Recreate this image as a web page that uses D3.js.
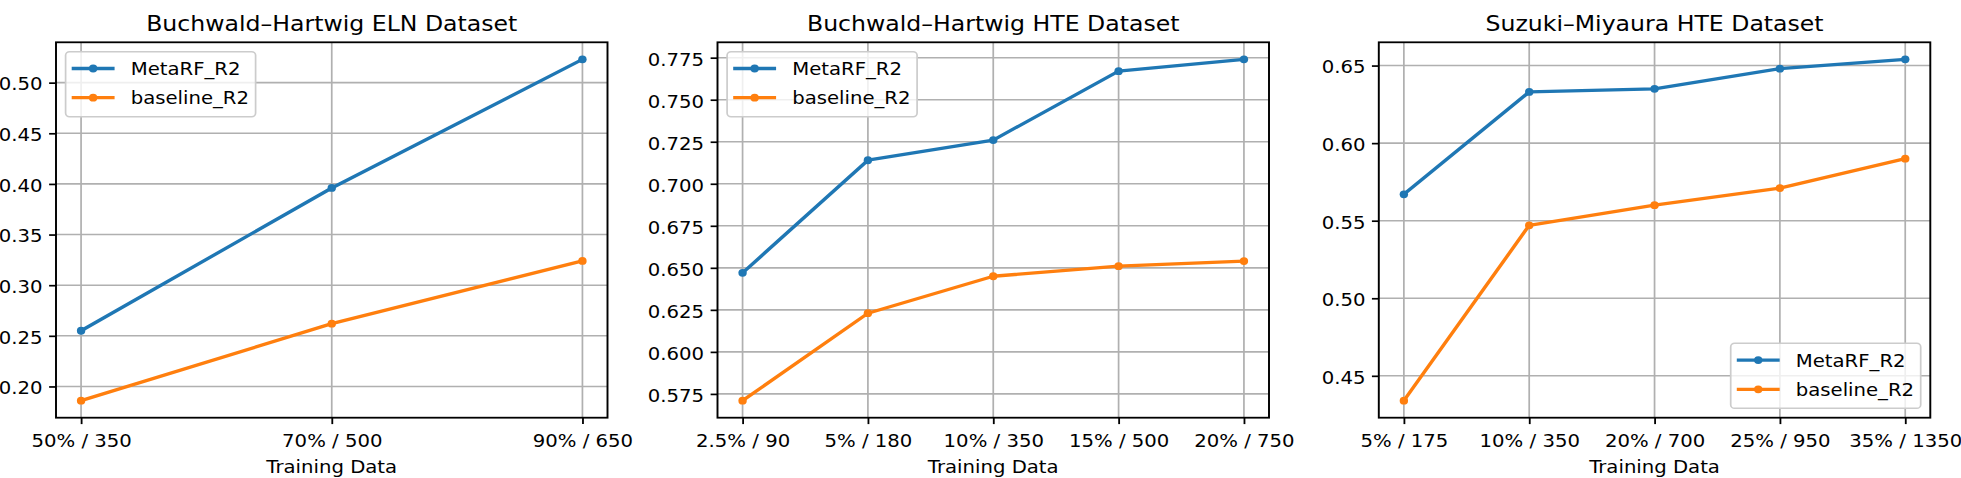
<!DOCTYPE html>
<html>
<head>
<meta charset="utf-8">
<script src="https://cdn.jsdelivr.net/npm/d3@7"></script>
<style>
  body { margin: 0; background: #fff; }
  text { font-family: "DejaVu Sans", sans-serif; }
</style>
</head>
<body>
<div id="chart"></div>
<script>
// series
const seriesNames = ["MetaRF_R2", "baseline_R2"];
const seriesColors = ["#1f77b4", "#ff7f0e"];

// Buchwald-Hartwig ELN
const elnLabels = ["50% / 350", "70% / 500", "90% / 650"];
const elnMeta = [0.255, 0.396, 0.523];
const elnBase = [0.186, 0.262, 0.324];
const elnTicks = [0.20, 0.25, 0.30, 0.35, 0.40, 0.45, 0.50];

// Buchwald-Hartwig HTE
const bhLabels = ["2.5% / 90", "5% / 180", "10% / 350", "15% / 500", "20% / 750"];
const bhMeta = [0.647, 0.714, 0.726, 0.767, 0.774];
const bhBase = [0.571, 0.623, 0.645, 0.651, 0.654];
const bhTicks = [0.575, 0.600, 0.625, 0.650, 0.675, 0.700, 0.725, 0.750, 0.775];

// Suzuki-Miyaura HTE
const smLabels = ["5% / 175", "10% / 350", "20% / 700", "25% / 950", "35% / 1350"];
const smMeta = [0.567, 0.633, 0.635, 0.648, 0.654];
const smBase = [0.434, 0.547, 0.560, 0.571, 0.590];
const smTicks = [0.45, 0.50, 0.55, 0.60, 0.65];

const panels = [
  { title: "Buchwald\u2013Hartwig ELN Dataset", labels: elnLabels, series: [elnMeta, elnBase], ticks: elnTicks, fmt: ".2f", legend: "top" },
  { title: "Buchwald\u2013Hartwig HTE Dataset", labels: bhLabels, series: [bhMeta, bhBase], ticks: bhTicks, fmt: ".3f", legend: "top" },
  { title: "Suzuki\u2013Miyaura HTE Dataset", labels: smLabels, series: [smMeta, smBase], ticks: smTicks, fmt: ".2f", legend: "bottom" }
];

const width = 1961, height = 478;
const sx = 1.075;         // the picture is a little stretched sideways
const fs = 18.3;          // 10pt
const px = fs / 10;       // pixels per point
const plotTop = 42.3, plotBottom = 417.7;
const lefts = [56, 717.5, 1378.8].map(v => v / sx);
const pw = 551.5 / sx;

const svg = d3.select("#chart")
  .append("svg")
  .attr("width", width)
  .attr("height", height);

const root = svg.append("g").attr("transform", `scale(${sx},1)`);

panels.forEach((p, i) => {
  const x0 = lefts[i];
  const n = p.labels.length;

  const x = d3.scalePoint()
    .domain(p.labels)
    .range([x0, x0 + pw])
    .padding(0.05 * (n - 1));

  const all = p.series.flat();
  const [lo, hi] = d3.extent(all);
  const pad = (hi - lo) * 0.05;
  const y = d3.scaleLinear()
    .domain([lo - pad, hi + pad])
    .range([plotBottom, plotTop]);

  const g = root.append("g");

  // grid
  g.append("g").selectAll("line")
    .data(p.ticks)
    .join("line")
    .attr("x1", x0).attr("x2", x0 + pw)
    .attr("y1", d => y(d)).attr("y2", d => y(d))
    .attr("stroke", "#b0b0b0")
    .attr("stroke-width", 1.6);

  g.append("g").selectAll("line")
    .data(p.labels)
    .join("line")
    .attr("x1", d => x(d)).attr("x2", d => x(d))
    .attr("y1", plotTop).attr("y2", plotBottom)
    .attr("stroke", "#b0b0b0")
    .attr("stroke-width", 1.6);

  // axes
  const yAxis = g.append("g")
    .attr("transform", `translate(${x0},0)`)
    .call(d3.axisLeft(y).tickValues(p.ticks).tickFormat(d3.format(p.fmt))
      .tickSize(3.5 * px).tickPadding(3.3 * px));

  const xAxis = g.append("g")
    .attr("transform", `translate(0,${plotBottom})`)
    .call(d3.axisBottom(x).tickSize(3.5 * px).tickPadding(3.5 * px));

  for (const ax of [xAxis, yAxis]) {
    ax.select(".domain").remove();
    ax.selectAll(".tick line").attr("stroke", "#000").attr("stroke-width", 1.7);
    ax.selectAll(".tick text")
      .attr("fill", "#000")
      .style("font-size", fs + "px")
      .style("font-family", '"DejaVu Sans", sans-serif');
  }
  yAxis.selectAll(".tick text").attr("dy", "0.4em");
  xAxis.selectAll(".tick text").attr("dy", "0.92em");

  // lines
  const line = d3.line()
    .x((d, j) => x(p.labels[j]))
    .y(d => y(d));

  p.series.forEach((vals, s) => {
    g.append("path")
      .datum(vals)
      .attr("fill", "none")
      .attr("stroke", seriesColors[s])
      .attr("stroke-width", 3.3)
      .attr("stroke-linejoin", "round")
      .attr("d", line);

    g.append("g").selectAll("circle")
      .data(vals)
      .join("circle")
      .attr("cx", (d, j) => x(p.labels[j]))
      .attr("cy", d => y(d))
      .attr("r", 3.9)
      .attr("fill", seriesColors[s]);
  });

  // spines
  g.append("rect")
    .attr("x", x0).attr("y", plotTop)
    .attr("width", pw).attr("height", plotBottom - plotTop)
    .attr("fill", "none")
    .attr("stroke", "#000")
    .attr("stroke-width", 1.8);

  // title and x label
  g.append("text")
    .attr("x", x0 + pw / 2)
    .attr("y", 30.7)
    .attr("text-anchor", "middle")
    .style("font-size", (fs * 1.2) + "px")
    .text(p.title);

  g.append("text")
    .attr("x", x0 + pw / 2)
    .attr("y", 472.6)
    .attr("text-anchor", "middle")
    .style("font-size", fs + "px")
    .text("Training Data");

  // legend
  const lw = 190 / sx, lh = 65;
  const bap = 9.6 / sx;
  const lgx = p.legend === "top" ? x0 + bap : x0 + pw - lw - bap;
  const lgy = p.legend === "top" ? plotTop + 9.4 : plotBottom - 9.4 - lh;

  const lg = g.append("g").attr("transform", `translate(${lgx},${lgy})`);
  lg.append("rect")
    .attr("width", lw).attr("height", lh)
    .attr("rx", 0.2 * fs)
    .attr("fill", "#fff").attr("fill-opacity", 0.8)
    .attr("stroke", "#cccccc")
    .attr("stroke-width", 1.6);

  const rows = [16.8, 46];
  seriesNames.forEach((name, s) => {
    const ry = rows[s];
    lg.append("line")
      .attr("x1", 0.4 * fs).attr("x2", 0.4 * fs + 2 * fs)
      .attr("y1", ry).attr("y2", ry)
      .attr("stroke", seriesColors[s])
      .attr("stroke-width", 3.3)
      .attr("stroke-linecap", "square");
    lg.append("circle")
      .attr("cx", 0.4 * fs + fs).attr("cy", ry)
      .attr("r", 3.9)
      .attr("fill", seriesColors[s]);
    lg.append("text")
      .attr("x", 0.4 * fs + 2 * fs + 0.8 * fs + 2)
      .attr("y", ry)
      .attr("dy", "0.36em")
      .style("font-size", fs + "px")
      .text(name);
  });
});
</script>
</body>
</html>
